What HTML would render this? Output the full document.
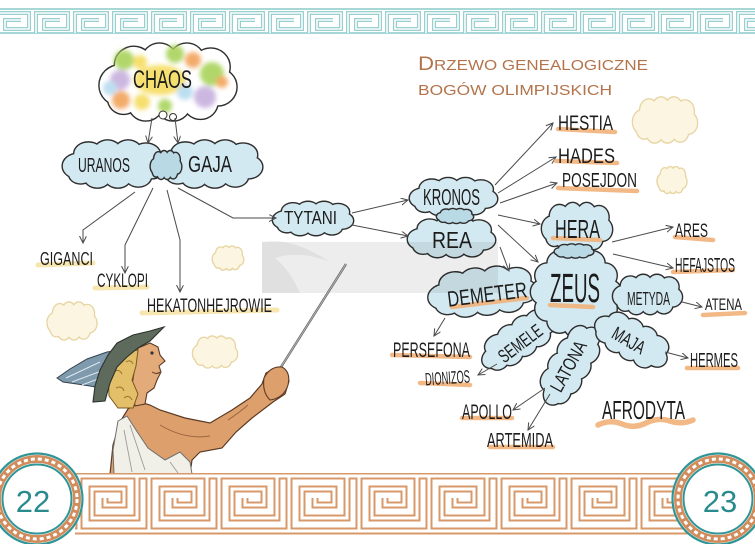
<!DOCTYPE html>
<html><head><meta charset="utf-8">
<style>
html,body{margin:0;padding:0;background:#fff;}
svg{display:block;}
.o{fill:#2e2e2e;stroke:#2e2e2e;stroke-width:2.8}
.f{fill:#d3e9f1}
.s{fill:#b9d9e5}
.yo{fill:#e6d4a2;stroke:#e6d4a2;stroke-width:2.6}
.yf{fill:#fcf5e1}
.t{font-family:"Liberation Sans",sans-serif;fill:#1c1c1c}
.ar{fill:none;stroke:#4a4a4a;stroke-width:1;marker-end:url(#ah)}
.ul{fill:none;stroke:#f1b17a;stroke-width:4.5;stroke-linecap:round;opacity:.9}
.uy{fill:none;stroke:#f6e3a6;stroke-width:5;stroke-linecap:round;opacity:.9}
</style></head>
<body>
<svg width="755" height="544" viewBox="0 0 755 544" xmlns="http://www.w3.org/2000/svg">
<defs>
<marker id="ah" markerWidth="9" markerHeight="9" refX="7" refY="3.5" orient="auto" markerUnits="userSpaceOnUse">
<path d="M0,0 L7,3.5 L0,7" fill="none" stroke="#4a4a4a" stroke-width="1"/>
</marker>
<g id="cl">
<ellipse rx="30" ry="14" vector-effect="non-scaling-stroke"/>
<circle cx="-28" cy="2" r="12" vector-effect="non-scaling-stroke"/>
<circle cx="-20" cy="-10" r="11" vector-effect="non-scaling-stroke"/>
<circle cx="-5" cy="-13" r="10" vector-effect="non-scaling-stroke"/>
<circle cx="11" cy="-13" r="10" vector-effect="non-scaling-stroke"/>
<circle cx="25" cy="-9" r="11" vector-effect="non-scaling-stroke"/>
<circle cx="29" cy="3" r="11" vector-effect="non-scaling-stroke"/>
<circle cx="19" cy="12" r="10" vector-effect="non-scaling-stroke"/>
<circle cx="3" cy="13" r="10" vector-effect="non-scaling-stroke"/>
<circle cx="-13" cy="13" r="10" vector-effect="non-scaling-stroke"/>
<circle cx="-26" cy="10" r="9" vector-effect="non-scaling-stroke"/>
</g>
<g id="zc">
<circle cx="576" cy="292" r="34"/>
<circle cx="609" cy="292" r="12"/>
<circle cx="604.6" cy="308.5" r="12"/>
<circle cx="592.5" cy="320.6" r="12"/>
<circle cx="576" cy="325" r="12"/>
<circle cx="559.5" cy="320.6" r="12"/>
<circle cx="547.4" cy="308.5" r="12"/>
<circle cx="543" cy="292" r="12"/>
<circle cx="547.4" cy="275.5" r="12"/>
<circle cx="559.5" cy="263.4" r="12"/>
<circle cx="576" cy="259" r="12"/>
<circle cx="592.5" cy="263.4" r="12"/>
<circle cx="604.6" cy="275.5" r="12"/>
</g>
<pattern id="mt" patternUnits="userSpaceOnUse" x="-5" y="8" width="39" height="26">
<path d="M0,1 H39 M0,25 H39" stroke="#8ccaca" stroke-width="1.4" fill="none"/>
<path d="M2,25 V5 H34 V21 H10 V12 H26" stroke="#8ccaca" stroke-width="3.8" fill="none"/>
<path d="M2,25 V5 H34 V21 H10 V12 H26" stroke="#fff" stroke-width="1.6" fill="none"/>
</pattern>
<pattern id="mb" patternUnits="userSpaceOnUse" x="75" y="473" width="70" height="62">
<path d="M0,3 H70 M0,58 H70 M4,58 V3 M62,3 V45 H17 V16 H49 V32 H30 V25" stroke="#d8996a" stroke-width="7" fill="none"/>
<path d="M0,3 H70 M0,58 H70 M4,58 V3 M62,3 V45 H17 V16 H49 V32 H30 V25" stroke="#fff" stroke-width="3" fill="none"/>
</pattern>
<filter id="bl" x="-50%" y="-50%" width="200%" height="200%"><feGaussianBlur stdDeviation="2.5"/></filter>
</defs>

<rect width="755" height="544" fill="#fff"/>

<!-- top meander -->
<rect x="0" y="8" width="755" height="26" fill="url(#mt)"/>

<!-- title -->
<text font-family="'Liberation Sans',sans-serif" fill="#b3744c" x="418" y="70" textLength="230" lengthAdjust="spacingAndGlyphs"><tspan font-size="19">D</tspan><tspan font-size="14.5">RZEWO GENEALOGICZNE</tspan></text>
<text font-family="'Liberation Sans',sans-serif" fill="#b3744c" x="418" y="95" font-size="14.5" textLength="194" lengthAdjust="spacingAndGlyphs">BOGÓW OLIMPIJSKICH</text>

<!-- decorative cream clouds -->
<g transform="translate(665,120) scale(0.8,0.98)"><use href="#cl" class="yo"/><use href="#cl" class="yf"/></g>
<g transform="translate(672,180) scale(0.36,0.56)"><use href="#cl" class="yo"/><use href="#cl" class="yf"/></g>
<g transform="translate(228,258) scale(0.38,0.5)"><use href="#cl" class="yo"/><use href="#cl" class="yf"/></g>
<g transform="translate(72,321) scale(0.61,0.8)"><use href="#cl" class="yo"/><use href="#cl" class="yf"/></g>
<g transform="translate(215,352) scale(0.55,0.67)"><use href="#cl" class="yo"/><use href="#cl" class="yf"/></g>

<!-- CHAOS cloud -->
<g transform="translate(168,82) scale(1.71,1.67)"><use href="#cl" class="o"/><use href="#cl" fill="#fff"/></g>
<g filter="url(#bl)" opacity="0.9">
<ellipse cx="160" cy="80" rx="26" ry="15" fill="#f5dc5e"/>
<circle cx="142" cy="102" r="8" fill="#f5dc5e"/>
<circle cx="124" cy="60" r="10" fill="#a9d35a"/>
<circle cx="175" cy="54" r="9" fill="#a9d35a"/>
<circle cx="212" cy="74" r="12" fill="#a9d35a"/>
<circle cx="165" cy="106" r="7" fill="#a9d35a"/>
<circle cx="120" cy="80" r="10" fill="#c7b0de"/>
<circle cx="205" cy="97" r="11" fill="#c7b0de"/>
<circle cx="121" cy="100" r="9" fill="#f2a35a"/>
<circle cx="193" cy="60" r="8" fill="#f2a35a"/>
<circle cx="222" cy="82" r="6" fill="#f2a35a"/>
<circle cx="110" cy="88" r="7" fill="#b6dbee"/>
<circle cx="185" cy="92" r="8" fill="#b6dbee"/>
<circle cx="140" cy="62" r="7" fill="#f5dc5e"/>
</g>
<circle cx="163" cy="115" r="4" fill="#fff" stroke="#333" stroke-width="1"/>
<circle cx="173" cy="117" r="3.5" fill="#fff" stroke="#333" stroke-width="1"/>

<!-- URANOS / GAJA -->
<g transform="translate(114,164) scale(1.28,1.02)"><use href="#cl" class="o"/></g>
<g transform="translate(211,164) scale(1.28,1.02)"><use href="#cl" class="o"/></g>
<g transform="translate(114,164) scale(1.28,1.02)"><use href="#cl" class="f"/></g>
<g transform="translate(211,164) scale(1.28,1.02)"><use href="#cl" class="f"/></g>
<g transform="translate(166,165) scale(0.38,0.6)"><use href="#cl" class="o"/><use href="#cl" class="s"/></g>

<!-- TYTANI -->
<g transform="translate(313,218.5) scale(1.0,0.72)"><use href="#cl" class="o"/><use href="#cl" class="f"/></g>

<!-- KRONOS / REA -->
<g transform="translate(453.5,196.5) scale(1.09,0.8)"><use href="#cl" class="o"/><use href="#cl" class="f"/></g>
<g transform="translate(451.5,237.5) scale(1.09,0.85)"><use href="#cl" class="o"/><use href="#cl" class="f"/></g>
<g transform="translate(455,216) scale(0.45,0.3)"><use href="#cl" class="o"/><use href="#cl" class="s"/></g>

<!-- Zeus family clouds -->
<g transform="translate(482.5,291.5) rotate(-5) scale(1.36,1.02)"><use href="#cl" class="o"/><use href="#cl" class="f"/></g>
<g transform="translate(518,340) rotate(-33) scale(1.05,0.8)"><use href="#cl" class="o"/><use href="#cl" class="f"/></g>
<use href="#zc" class="o"/><use href="#zc" class="f"/>
<g transform="translate(570,365) rotate(-58) scale(1.1,0.85)"><use href="#cl" class="o"/><use href="#cl" class="f"/></g>
<g transform="translate(632,340) rotate(30) scale(1.0,0.85)"><use href="#cl" class="o"/><use href="#cl" class="f"/></g>
<g transform="translate(647.5,294.5) scale(0.86,0.85)"><use href="#cl" class="o"/><use href="#cl" class="f"/></g>
<g transform="translate(577,226.5) scale(0.875,1.02)"><use href="#cl" class="o"/><use href="#cl" class="f"/></g>
<g transform="translate(574,251) scale(0.48,0.28)"><use href="#cl" class="o"/><use href="#cl" class="s"/></g>

<!-- watermark -->
<rect x="262" y="242" width="236" height="51" fill="#000" opacity="0.07"/>
<path d="M262,242 Q290,236 330,262 Q300,250 275,258 Q290,270 300,293 L262,293 Z" fill="#000" opacity="0.05"/>

<!-- arrows -->
<polyline class="ar" points="152,118 148,143"/>
<polyline class="ar" points="175,118 178,143"/>
<polyline class="ar" points="135,192 83,230 83,243"/>
<polyline class="ar" points="153,188 125,245 125,273"/>
<polyline class="ar" points="167,190 180,240 180,292"/>
<polyline class="ar" points="178,188 233,218 276,218"/>
<polyline class="ar" points="352,213 408,200"/>
<polyline class="ar" points="352,225 408,236"/>
<polyline class="ar" points="495,185 553,123"/>
<polyline class="ar" points="498,193 556,157"/>
<polyline class="ar" points="500,203 557,183"/>
<polyline class="ar" points="498,215 540,224"/>
<polyline class="ar" points="498,225 538,262"/>
<polyline class="ar" points="500,247 509,271"/>
<polyline class="ar" points="612,242 673,227"/>
<polyline class="ar" points="613,254 673,268"/>
<polyline class="ar" points="682,302 702,307"/>
<polyline class="ar" points="445,318 434,336"/>
<polyline class="ar" points="497,364 478,375"/>
<polyline class="ar" points="545,388 513,410"/>
<polyline class="ar" points="550,394 528,430"/>
<polyline class="ar" points="665,352 688,358"/>

<!-- underlines -->
<path class="uy" d="M38,265 L93,263"/>
<path class="uy" d="M95,288 L147,287"/>
<path class="uy" d="M142,313 L277,310"/>
<path class="ul" d="M558,129 L615,132"/>
<path class="ul" d="M556,161 L617,163"/>
<path class="ul" d="M558,188 L637,191"/>
<path class="ul" d="M553,238 L600,240"/>
<path class="ul" d="M550,305 L593,307"/>
<path class="ul" d="M452,307 L527,298"/>
<path class="ul" d="M675,237 L713,240"/>
<path class="ul" d="M673,272 L733,270"/>
<path class="ul" d="M703,315 L745,313"/>
<path class="ul" d="M392,355 L470,357"/>
<path class="ul" d="M420,383 L470,385"/>
<path class="ul" d="M687,368 L738,368"/>
<path class="ul" d="M462,418 L512,418"/>
<path class="ul" d="M490,447 L553,447"/>
<path class="ul" style="stroke-width:5.5" d="M598,425 Q610,419 622,424 T646,423 T670,421 T693,420"/>

<!-- labels -->
<text class="t" x="133" y="88" font-size="25" textLength="59" lengthAdjust="spacingAndGlyphs">CHAOS</text>
<text class="t" x="78" y="172" font-size="20" textLength="52" lengthAdjust="spacingAndGlyphs">URANOS</text>
<text class="t" x="188" y="172" font-size="23" textLength="44" lengthAdjust="spacingAndGlyphs">GAJA</text>
<text class="t" x="40" y="265" font-size="18" textLength="53" lengthAdjust="spacingAndGlyphs">GIGANCI</text>
<text class="t" x="97" y="287" font-size="19" textLength="51" lengthAdjust="spacingAndGlyphs">CYKLOPI</text>
<text class="t" x="147" y="312" font-size="19" textLength="125" lengthAdjust="spacingAndGlyphs">HEKATONHEJROWIE</text>
<text class="t" x="284" y="224" font-size="18" textLength="53" lengthAdjust="spacingAndGlyphs">TYTANI</text>
<text class="t" x="423" y="205" font-size="23" textLength="57" lengthAdjust="spacingAndGlyphs">KRONOS</text>
<text class="t" x="432" y="248" font-size="23" textLength="40" lengthAdjust="spacingAndGlyphs">REA</text>
<text class="t" x="558" y="130" font-size="21" textLength="55" lengthAdjust="spacingAndGlyphs">HESTIA</text>
<text class="t" x="558" y="163" font-size="21" textLength="57" lengthAdjust="spacingAndGlyphs">HADES</text>
<text class="t" x="562" y="187" font-size="20" textLength="75" lengthAdjust="spacingAndGlyphs">POSEJDON</text>
<text class="t" x="555" y="238" font-size="26" textLength="45" lengthAdjust="spacingAndGlyphs">HERA</text>
<text class="t" x="550" y="302" font-size="41" textLength="50" lengthAdjust="spacingAndGlyphs">ZEUS</text>
<text class="t" x="447" y="302" font-size="22" textLength="80" lengthAdjust="spacingAndGlyphs" transform="rotate(-7 487 293)">DEMETER</text>
<text class="t" x="627" y="305" font-size="18" textLength="43" lengthAdjust="spacingAndGlyphs">METYDA</text>
<text class="t" x="675" y="237" font-size="19" textLength="33" lengthAdjust="spacingAndGlyphs">ARES</text>
<text class="t" x="675" y="272" font-size="20" textLength="60" lengthAdjust="spacingAndGlyphs">HEFAJSTOS</text>
<text class="t" x="705" y="310" font-size="17" textLength="37" lengthAdjust="spacingAndGlyphs">ATENA</text>
<text class="t" x="0" y="7" font-size="19" text-anchor="middle" textLength="50" lengthAdjust="spacingAndGlyphs" transform="translate(520,343) rotate(-37)">SEMELE</text>
<text class="t" x="0" y="7" font-size="19" text-anchor="middle" textLength="55" lengthAdjust="spacingAndGlyphs" transform="translate(568,366) rotate(-61)">LATONA</text>
<text class="t" x="0" y="7" font-size="19" text-anchor="middle" textLength="35" lengthAdjust="spacingAndGlyphs" transform="translate(629,340) rotate(30)">MAJA</text>
<text class="t" x="393" y="357" font-size="21" textLength="77" lengthAdjust="spacingAndGlyphs">PERSEFONA</text>
<text class="t" x="425" y="384" font-size="18" textLength="45" lengthAdjust="spacingAndGlyphs" transform="rotate(-4 447 378)">DIONIZOS</text>
<text class="t" x="690" y="367" font-size="20" textLength="48" lengthAdjust="spacingAndGlyphs">HERMES</text>
<text class="t" x="462" y="419" font-size="21" textLength="50" lengthAdjust="spacingAndGlyphs">APOLLO</text>
<text class="t" x="487" y="447" font-size="20" textLength="66" lengthAdjust="spacingAndGlyphs">ARTEMIDA</text>
<text class="t" x="602" y="419" font-size="26" textLength="83" lengthAdjust="spacingAndGlyphs">AFRODYTA</text>

<!-- Hermes figure -->
<line x1="276" y1="375" x2="346" y2="264" stroke="#6b6b6b" stroke-width="2.4"/>
<line x1="276" y1="375" x2="346" y2="264" stroke="#bbb" stroke-width="0.8"/>
<path d="M110,474 L113,445 L120,422 L128,409 L140,402 L150,405 L160,410 L185,418 L210,423 L232,410 L250,398 L262,384 L266,373 L276,368 L285,371 L289,381 L285,394 L273,402 L252,418 L236,432 L222,448 L200,452 L192,460 L190,474 Z" fill="#dda06c" stroke="#5a3a25" stroke-width="1.2"/>
<path d="M160,425 Q185,440 210,436 M228,420 Q240,412 248,405 M268,378 Q276,384 284,380" fill="none" stroke="#9a6440" stroke-width="1"/>
<path d="M264,378 Q270,366 282,367 Q291,372 288,385 Q284,398 270,400 Q262,392 264,378 Z" fill="#dda06c" stroke="#5a3a25" stroke-width="1.1"/>
<path d="M118,421 L127,416 L136,430 L148,448 L165,460 L180,452 L190,462 L192,474 L114,474 L113,450 Z" fill="#f1f0e8" stroke="#6f6f6f" stroke-width="1"/>
<path d="M124,430 L132,472 M130,425 L145,470 M170,462 L178,473" fill="none" stroke="#9a9a9a" stroke-width="0.9"/>
<path d="M138,348 L150,343 L158,347 L160,355 L165,361 L159,366 L161,372 L157,380 L154,388 L147,393 L145,404 L135,406 L132,385 Z" fill="#e3aa7a" stroke="#5a3a25" stroke-width="1.1"/>
<path d="M108,366 Q112,354 126,352 L138,350 L136,366 L132,380 L138,394 L133,408 L118,408 L109,396 Z" fill="#e2bf68" stroke="#7a5a22" stroke-width="1"/>
<path d="M114,372 q5,-4 8,2 M116,388 q6,-3 8,3 M124,398 q5,-4 8,2 M126,362 q5,-3 7,2" fill="none" stroke="#9a7430" stroke-width="1"/>
<path d="M57,378 L70,369 L87,359 L107,352 L114,351 L112,364 L107,378 L100,388 L90,386 L77,384 L63,382 Z" fill="#7f99ad" stroke="#34424d" stroke-width="1"/>
<path d="M66,378 L100,362 M72,382 L104,370 M82,385 L106,376" fill="none" stroke="#dfe8ee" stroke-width="1"/>
<path d="M93,402 L95,386 L100,370 L108,355 L117,343 L133,335 L150,331 L164,327 L150,341 L138,348 L127,357 L117,367 L110,383 L105,401 Z" fill="#5d6a5c" stroke="#2c332b" stroke-width="1.1"/>
<circle cx="152" cy="353" r="1.6" fill="#333"/>
<path d="M152,372 Q157,375 160,372" fill="none" stroke="#5a3a25" stroke-width="1"/>

<!-- bottom meander -->
<rect x="75" y="473" width="615" height="62" fill="url(#mb)"/>

<!-- page circles -->
<g>
<circle cx="37" cy="499" r="45.5" fill="#fff" stroke="#2f9596" stroke-width="2.2"/>
<circle cx="37" cy="499" r="40" fill="none" stroke="#d08c5c" stroke-width="8"/>
<circle cx="37" cy="499" r="40" fill="none" stroke="#fff" stroke-width="3" stroke-dasharray="4 3"/>
<circle cx="37" cy="499" r="34.5" fill="#fff" stroke="#2f9596" stroke-width="2"/>
<text x="33" y="512" font-family="'Liberation Sans',sans-serif" font-size="31" fill="#2a8b8f" text-anchor="middle">22</text>
</g>
<g>
<circle cx="718" cy="499" r="45.5" fill="#fff" stroke="#2f9596" stroke-width="2.2"/>
<circle cx="718" cy="499" r="40" fill="none" stroke="#d08c5c" stroke-width="8"/>
<circle cx="718" cy="499" r="40" fill="none" stroke="#fff" stroke-width="3" stroke-dasharray="4 3"/>
<circle cx="718" cy="499" r="34.5" fill="#fff" stroke="#2f9596" stroke-width="2"/>
<text x="720" y="512" font-family="'Liberation Sans',sans-serif" font-size="31" fill="#2a8b8f" text-anchor="middle">23</text>
</g>
</svg>
</body></html>
